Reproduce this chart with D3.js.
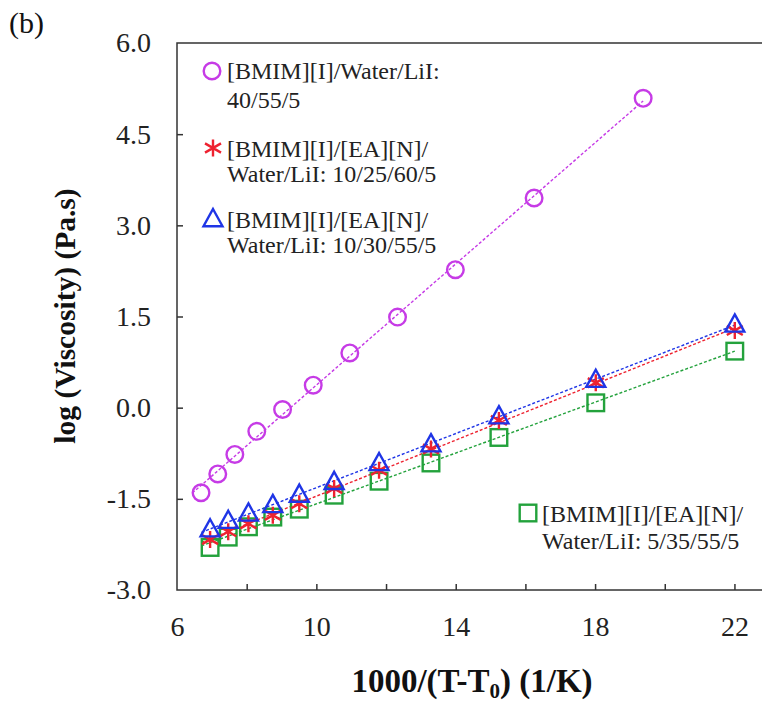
<!DOCTYPE html>
<html>
<head>
<meta charset="utf-8">
<script src="https://cdn.jsdelivr.net/npm/d3@7"></script>
<style>
  html, body { margin: 0; padding: 0; background: #fff; }
  svg { display: block; font-family: "Liberation Serif", "Times New Roman", serif; }
</style>
</head>
<body>
<svg id="chart" width="762" height="703"></svg>
<script>
// Series: log(viscosity) vs 1000/(T - T0)
const xPurple = [6.69, 7.17, 7.66, 8.29, 9.03, 9.91, 10.96, 12.33, 13.99, 16.25, 19.38];
const yPurple = [-1.40, -1.09, -0.77, -0.39, -0.03, 0.37, 0.90, 1.49, 2.27, 3.45, 5.09];

const xMix = [6.95, 7.47, 8.05, 8.75, 9.51, 10.51, 11.80, 13.29, 15.24, 18.02, 22.01];
const yRed = [-2.17, -2.04, -1.91, -1.77, -1.58, -1.33, -1.03, -0.68, -0.21, 0.41, 1.27];
const yBlue = [-2.00, -1.86, -1.74, -1.60, -1.43, -1.22, -0.91, -0.60, -0.14, 0.46, 1.37];
const yGreen = [-2.30, -2.13, -1.96, -1.80, -1.67, -1.44, -1.21, -0.91, -0.49, 0.08, 0.93];

const xTicks = [8, 10, 12, 14, 16, 18, 20, 22];
const xLabels = [6, 10, 14, 18, 22];
const yTicks = [-3.0, -1.5, 0.0, 1.5, 3.0, 4.5, 6.0];

const legendPurple = ["[BMIM][I]/Water/LiI:", "40/55/5"];
const legendRed = ["[BMIM][I]/[EA][N]/", "Water/LiI: 10/25/60/5"];
const legendBlue = ["[BMIM][I]/[EA][N]/", "Water/LiI: 10/30/55/5"];
const legendGreen = ["[BMIM][I]/[EA][N]/", "Water/LiI: 5/35/55/5"];

const C = { purple: "#c63be6", red: "#ee2230", blue: "#1f35e6", green: "#23a23c", axis: "#333" };

const svg = d3.select("#chart");
const plotLeft = 177, plotTop = 43, plotBottom = 590;
const x = d3.scaleLinear().domain([6, 23]).range([plotLeft, plotLeft + 17 * 34.84]);
const y = d3.scaleLinear().domain([-3, 6]).range([plotBottom, plotTop]);

// frame (right edge falls just outside the canvas)
svg.append("rect")
  .attr("x", x(6)).attr("y", y(6))
  .attr("width", x(23) - x(6)).attr("height", y(-3) - y(6))
  .attr("fill", "none").attr("stroke", C.axis).attr("stroke-width", 1.5);

// x axis: inward ticks every 2, labels every 4
const xAll = Array.from(new Set(xTicks.concat(xLabels))).sort((a, b) => a - b);
const xAxis = d3.axisBottom(x).tickValues(xAll)
  .tickSize(-6).tickPadding(26)
  .tickFormat(d => xLabels.includes(d) ? d3.format("d")(d) : "");
const gx = svg.append("g").attr("transform", `translate(0,${plotBottom})`).call(xAxis);
gx.select(".domain").remove();
gx.selectAll("line").attr("stroke", C.axis).attr("stroke-width", 1.5)
  .filter(d => d === 6).remove();
gx.selectAll("text").attr("font-size", 28).attr("fill", "#222")
  .attr("font-family", "Liberation Serif, serif");

// y axis (plain hyphen for negative values)
const fmt1 = d3.format(".1f");
const yAxis = d3.axisLeft(y).tickValues(yTicks).tickSize(-6).tickPadding(26)
  .tickFormat(d => fmt1(d).replace("\u2212", "-"));
const gy = svg.append("g").attr("transform", `translate(${plotLeft},0)`).call(yAxis);
gy.select(".domain").remove();
gy.selectAll("line").attr("stroke", C.axis).attr("stroke-width", 1.5)
  .filter(d => d === -3 || d === 6).remove();
gy.selectAll("text").attr("font-size", 28).attr("fill", "#222")
  .attr("font-family", "Liberation Serif, serif");

// axis titles
const xt = svg.append("text").attr("x", 472).attr("y", 692).attr("text-anchor", "middle")
  .attr("font-size", 33).attr("font-weight", "bold").attr("fill", "#111");
xt.append("tspan").text("1000/(T-T");
xt.append("tspan").text("0").attr("font-size", 21).attr("dy", 6);
xt.append("tspan").text(") (1/K)").attr("dy", -6);

svg.append("text").attr("transform", "translate(75,316) rotate(-90)")
  .attr("text-anchor", "middle").attr("font-size", 29.5).attr("font-weight", "bold")
  .attr("fill", "#111").text("log (Viscosity) (Pa.s)");

svg.append("text").attr("x", 9).attr("y", 33).attr("font-size", 30).attr("fill", "#111").text("(b)");

// least-squares trend lines
function fit(xs, ys) {
  const mx = d3.mean(xs), my = d3.mean(ys);
  const b = d3.sum(xs, (v, i) => (v - mx) * (ys[i] - my)) / d3.sum(xs, v => (v - mx) * (v - mx));
  return v => my + b * (v - mx);
}
function trend(xs, ys, color) {
  const f = fit(xs, ys);
  const x0 = d3.min(xs) - 0.25, x1 = d3.max(xs);
  svg.append("path")
    .attr("d", d3.line()([[x(x0), y(f(x0))], [x(x1), y(f(x1))]]))
    .attr("stroke", color).attr("stroke-width", 1.4).attr("stroke-dasharray", "3,2")
    .attr("fill", "none");
}
trend(xPurple, yPurple, C.purple);
trend(xMix, yGreen, C.green);
trend(xMix, yRed, C.red);
trend(xMix, yBlue, C.blue);

// marker shapes
const markers = {
  circle: g => g.append("circle").attr("r", 8.3),
  square: g => g.append("rect").attr("x", -8.3).attr("y", -8.3).attr("width", 16.6).attr("height", 16.6),
  triangle: g => g.append("path").attr("d", "M0,-10L9.5,7.2L-9.5,7.2Z"),
  star: g => g.append("path").attr("d", "M0,-8.5V8.5M-8,-4.6L8,4.6M-8,4.6L8,-4.6")
};
function drawSeries(xs, ys, shape, color) {
  const g = svg.append("g");
  xs.forEach((v, i) => {
    const m = g.append("g").attr("transform", `translate(${x(v)},${y(ys[i])})`);
    markers[shape](m).attr("fill", "none").attr("stroke", color).attr("stroke-width", 2.4);
  });
}
drawSeries(xPurple, yPurple, "circle", C.purple);
drawSeries(xMix, yGreen, "square", C.green);
drawSeries(xMix, yRed, "star", C.red);
drawSeries(xMix, yBlue, "triangle", C.blue);

// legend entries
function legendEntry(mx, my, tx, base, gap, lines, shape, color) {
  const m = svg.append("g").attr("transform", `translate(${mx},${my})`);
  markers[shape](m).attr("fill", "none").attr("stroke", color).attr("stroke-width", 2.4);
  lines.forEach((t, i) => {
    svg.append("text").attr("x", tx).attr("y", base + i * gap)
      .attr("font-size", 24).attr("fill", "#222").text(t);
  });
}
legendEntry(212, 71, 227, 79, 29, legendPurple, "circle", C.purple);
legendEntry(213, 148, 227, 157, 25, legendRed, "star", C.red);
legendEntry(213, 219, 227, 228, 25, legendBlue, "triangle", C.blue);
legendEntry(528, 513, 542, 522, 26.5, legendGreen, "square", C.green);
</script>
</body>
</html>
